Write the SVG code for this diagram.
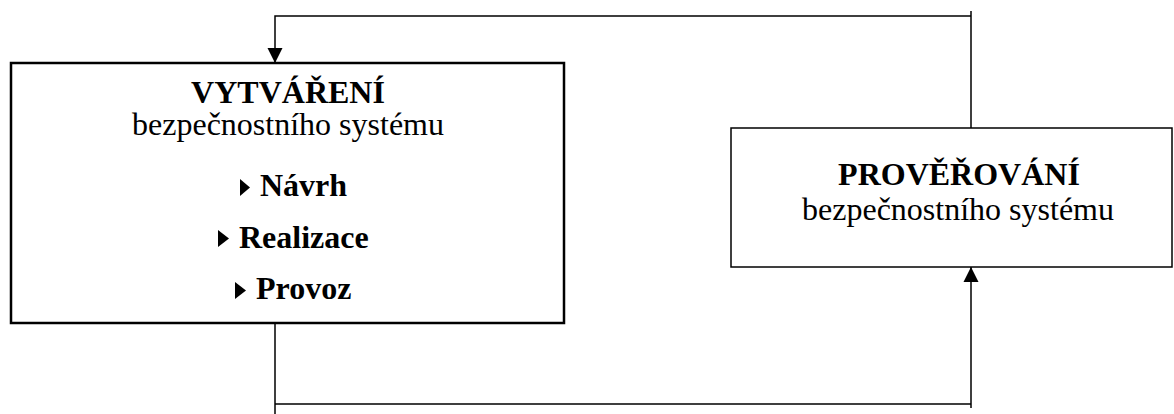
<svg xmlns="http://www.w3.org/2000/svg" width="1174" height="414" viewBox="0 0 1174 414">
<style>
.box{fill:#fff;stroke:#000}
.t{font-family:"Liberation Serif","Times New Roman",serif;font-size:32px;fill:#000;text-anchor:middle}
.b{font-weight:bold}
.bl{font-family:"Liberation Serif","Times New Roman",serif;font-size:32px;font-weight:bold;fill:#000}
.c{fill:none;stroke:#000;stroke-width:1.5}
</style>
<defs>
<marker id="ah" viewBox="0 0 15 16" refX="15" refY="8" markerWidth="15" markerHeight="16" markerUnits="userSpaceOnUse" orient="auto">
<path d="M0,0.5 L15,8 L0,15.5 Z" fill="#000"/>
</marker>
</defs>
<g id="connectors">
<path class="c" d="M971,130 L971,11 M971,16 L275,16 L275,63" marker-end="url(#ah)"/>
<path class="c" d="M275,323 L275,414 M275,404 L971,404 L971,408 M971,404 L971,267" marker-end="url(#ah)"/>
</g>
<g id="node-vytvareni">
<rect class="box" x="11" y="63" width="553" height="260" stroke-width="2.5"/>
<text class="t b" x="288" y="103">VYTVÁŘENÍ</text>
<text class="t" x="288" y="135">bezpečnostního systému</text>
<polygon points="240,179 250,187.5 240,196" fill="#000"/>
<text class="bl" x="260" y="196">Návrh</text>
<polygon points="218,230 229,238.5 218,247" fill="#000"/>
<text class="bl" x="239" y="248">Realizace</text>
<polygon points="235,282 246,290.5 235,299" fill="#000"/>
<text class="bl" x="256" y="299">Provoz</text>
</g>
<g id="node-proverovani">
<rect class="box" x="731" y="128" width="441" height="139" stroke-width="1.5"/>
<text class="t b" x="959" y="185">PROVĚŘOVÁNÍ</text>
<text class="t" x="958" y="220">bezpečnostního systému</text>
</g>
</svg>
